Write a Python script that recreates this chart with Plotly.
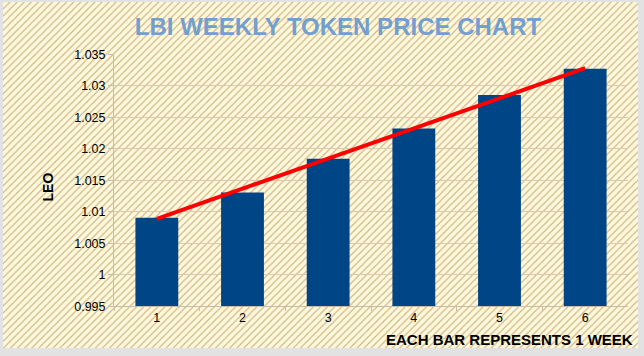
import plotly.graph_objects as go

weeks = ["1", "2", "3", "4", "5", "6"]
prices = [1.00908, 1.01306, 1.01842, 1.02324, 1.02855, 1.03273]
trend_weeks = ["1", "6"]
trend_values = [1.00888, 1.03284]
y_ticks = [0.995, 1.0, 1.005, 1.01, 1.015, 1.02, 1.025, 1.03, 1.035]
y_tick_labels = ["0.995", "1", "1.005", "1.01", "1.015", "1.02", "1.025", "1.03", "1.035"]

W, H = 644, 356
FONT = "Liberation Sans, Arial, sans-serif"
GRID = "#dccab0"
AXIS = "#c8bcaa"

fig = go.Figure()

# hatched chart background (drawn on its own full-frame subplot, below the main one)
fig.add_trace(go.Bar(
    x=[0.5], y=[1], width=[1], xaxis="x", yaxis="y",
    marker=dict(color="#fff8dc", line=dict(width=0),
                pattern=dict(shape="/", size=5, solidity=0.22,
                             fgcolor="#9c7028", bgcolor="#fff8dc")),
    hoverinfo="skip", showlegend=False,
))

fig.add_trace(go.Bar(
    x=weeks, y=prices, xaxis="x2", yaxis="y2",
    marker=dict(color="#004586", line=dict(width=0)),
    showlegend=False,
))
fig.add_trace(go.Scatter(
    x=trend_weeks, y=trend_values, xaxis="x2", yaxis="y2",
    mode="lines", line=dict(color="#ff0000", width=4),
    showlegend=False,
))

fig.update_layout(
    width=W, height=H, autosize=False,
    margin=dict(l=0, r=0, t=0, b=0, pad=0, autoexpand=False),
    paper_bgcolor="#e2e2e2",
    plot_bgcolor="rgba(0,0,0,0)",
    bargap=0.5,
    showlegend=False,
    font=dict(family=FONT, size=12.5, color="#000000"),
    xaxis=dict(domain=[3 / W, 638 / W], range=[0, 1], visible=False, fixedrange=True),
    yaxis=dict(domain=[8 / H, 354 / H], range=[0, 1], visible=False, fixedrange=True),
    xaxis2=dict(
        domain=[114 / W, 628 / W], anchor="y2", type="category", automargin=False,
        showgrid=False, showline=True, linecolor=AXIS, linewidth=1,
        ticks="outside", tickson="boundaries", ticklen=4, tickcolor=AXIS,
        tickfont=dict(family=FONT, size=12.5, color="#000000"),
    ),
    yaxis2=dict(
        domain=[(H - 306.25) / H, (H - 54.5) / H], anchor="x2", automargin=False,
        range=[0.995, 1.035], tickvals=y_ticks, ticktext=y_tick_labels,
        showgrid=True, gridcolor=GRID, gridwidth=1, zeroline=False,
        showline=True, linecolor=AXIS, linewidth=1,
        ticks="outside", ticklen=5, tickcolor=AXIS,
        tickfont=dict(family=FONT, size=12.5, color="#000000"),
    ),
    title=dict(
        text="LBI WEEKLY TOKEN PRICE CHART", automargin=False,
        x=338 / W, xanchor="center", y=1 - 26.7 / H, yanchor="middle",
        font=dict(family=FONT, size=24, color="#729fcf", weight="bold"),
    ),
    annotations=[
        dict(text="<b>EACH BAR REPRESENTS 1 WEEK</b>", xref="paper", yref="paper",
             x=509 / W, y=1 - 339 / H, xanchor="center", yanchor="middle",
             showarrow=False, font=dict(family=FONT, size=15, color="#000000")),
        dict(text="<b>LEO</b>", xref="paper", yref="paper", textangle=-90,
             x=47 / W, y=1 - 187.5 / H, xanchor="center", yanchor="middle",
             showarrow=False, font=dict(family=FONT, size=14, color="#000000")),
    ],
)

fig.write_html(
    "out.html",
    config={"displayModeBar": False},
    post_script="document.body.style.margin='0';document.body.style.overflow='hidden';",
)
